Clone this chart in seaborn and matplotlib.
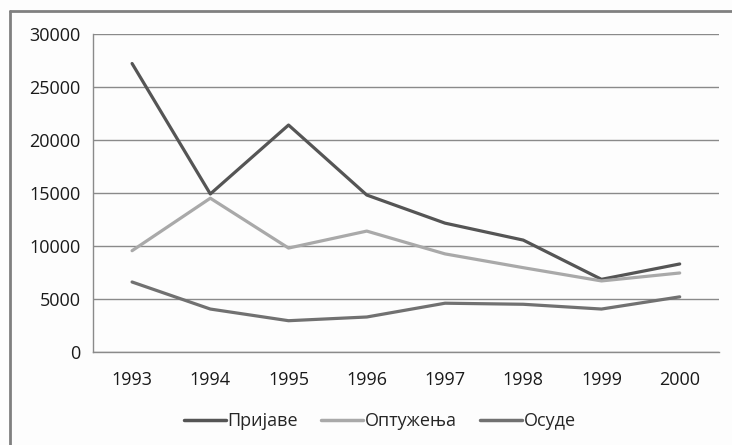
import numpy as np
import pandas as pd
import matplotlib
matplotlib.use("Agg")
import matplotlib.pyplot as plt
from matplotlib.lines import Line2D
from matplotlib.ticker import FixedLocator
import seaborn as sns

# ------------------------------------------------------------
# Data
# ------------------------------------------------------------
years = [1993, 1994, 1995, 1996, 1997, 1998, 1999, 2000]
prijave = [27200, 14900, 21400, 14800, 12150, 10550, 6850, 8300]
optuzenja = [9550, 14500, 9800, 11400, 9250, 7950, 6700, 7450]
osude = [6600, 4050, 2950, 3300, 4600, 4500, 4050, 5200]
series_names = ['Пријаве', 'Оптужења', 'Осуде']
colors = ['#555555', '#a9a9a9', '#717171']

df = pd.DataFrame({
    'year': [str(y) for y in years] * 3,
    'value': prijave + optuzenja + osude,
    'series': np.repeat(series_names, len(years)),
})
df['x'] = np.tile(np.arange(len(years)), 3)

# ------------------------------------------------------------
# Plot
# ------------------------------------------------------------
sns.set_style('white')
plt.rcParams['font.family'] = ['Open Sans', 'DejaVu Sans']

fig = plt.figure(figsize=(7.32, 4.45), dpi=100, facecolor='#fdfdfd')
ax = fig.add_axes([0.127, 0.209, 0.855, 0.715])
ax.set_facecolor('#fdfdfd')

sns.lineplot(data=df, x='x', y='value', hue='series', palette=colors,
             hue_order=series_names, linewidth=2.3, ax=ax, legend=False)

ax.set_ylim(0, 30000)
ax.set_yticks(np.arange(0, 30001, 5000))
ax.set_xlim(-0.5, len(years) - 0.5)
ax.set_xticks(np.arange(len(years)))
ax.set_xticklabels([str(y) for y in years])
ax.xaxis.set_minor_locator(FixedLocator(np.arange(-0.5, len(years), 1)))
ax.tick_params(axis='x', which='major', length=0, pad=14, labelsize=13, colors='#1a1a1a')
ax.tick_params(axis='x', which='minor', length=5, width=1, color='#888888', direction='out')
ax.tick_params(axis='y', length=5, width=1, direction='out', labelsize=13, colors='#1a1a1a', pad=4)
ax.tick_params(axis='y', color='#888888')
ax.yaxis.grid(True, color='#8a8a8a', linewidth=1)
ax.set_axisbelow(True)
ax.set_xlabel('')
ax.set_ylabel('')

for s in ['top', 'right']:
    ax.spines[s].set_visible(False)
for s in ['left', 'bottom']:
    ax.spines[s].set_color('#8a8a8a')
    ax.spines[s].set_linewidth(1)

handles = [Line2D([0], [0], color=c, linewidth=2.5) for c in colors]
fig.legend(handles, series_names, loc='center', bbox_to_anchor=(0.519, 0.053),
           ncol=3, frameon=False, fontsize=13, handlelength=2.3,
           handletextpad=0.1, columnspacing=1.3)

# chart frame (left and top edges)
fig.add_artist(Line2D([0.0137, 0.0137], [0, 0.976], color='#808080', linewidth=2,
                      transform=fig.transFigure))
fig.add_artist(Line2D([0.0137, 1.0], [0.976, 0.976], color='#808080', linewidth=2,
                      transform=fig.transFigure))

fig.savefig('out.png', dpi=100, facecolor=fig.get_facecolor())
